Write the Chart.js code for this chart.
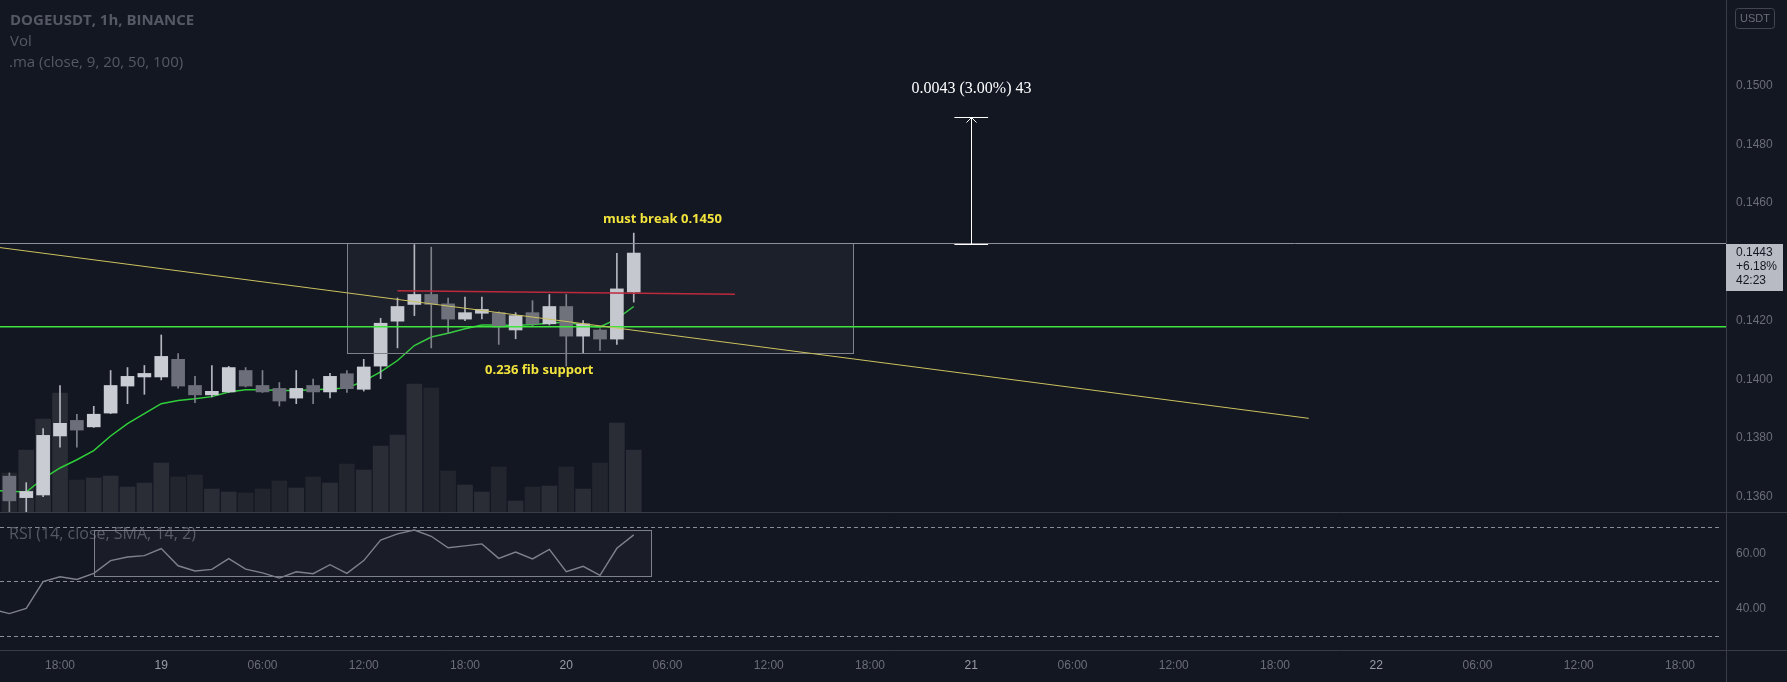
<!DOCTYPE html>
<html>
<head>
<meta charset="utf-8">
<title>DOGEUSDT, 1h, BINANCE</title>
<script src="https://cdn.jsdelivr.net/npm/chart.js@4.4.1/dist/chart.umd.min.js"></script>
<style>
  html, body { margin: 0; padding: 0; background: #131722; }
  #wrap { position: relative; width: 1787px; height: 682px; overflow: hidden; background: #131722; }
  #mainBox { position: absolute; left: 0; top: 0; width: 1787px; height: 512px; }
  #rsiBox { position: absolute; left: 0; top: 512px; width: 1787px; height: 170px; }
</style>
</head>
<body>
<div id="wrap">
  <div id="mainBox"><canvas id="mainChart" width="1787" height="512"></canvas></div>
  <div id="rsiBox"><canvas id="rsiChart" width="1787" height="170"></canvas></div>
</div>
<script>
// hours are counted from 18 Dec 18:00 (hour 0), one candle per hour
const firstCandleHour = -3;
const opens  = [0.13670, 0.13597, 0.13606, 0.13807, 0.13860, 0.13838, 0.13885, 0.13977, 0.14008, 0.14008,
                0.14068, 0.13979, 0.13947, 0.13957, 0.14030, 0.13979, 0.13969, 0.13936, 0.13979, 0.13957,
                0.14019, 0.13966, 0.14045, 0.14198, 0.14255, 0.14289, 0.14257, 0.14205, 0.14225, 0.14227,
                0.14168, 0.14227, 0.14189, 0.14248, 0.14147, 0.14168, 0.14137, 0.14297];
const highs  = [0.13681, 0.13648, 0.13832, 0.13979, 0.13881, 0.13908, 0.14030, 0.14040, 0.14047, 0.14151,
                0.14088, 0.14010, 0.14047, 0.14044, 0.14040, 0.14030, 0.13989, 0.14030, 0.14001, 0.14020,
                0.14030, 0.14068, 0.14208, 0.14277, 0.14459, 0.14450, 0.14277, 0.14280, 0.14280, 0.14230,
                0.14227, 0.14268, 0.14289, 0.14289, 0.14200, 0.14172, 0.14429, 0.14498];
const lows   = [0.13548, 0.13548, 0.13600, 0.13769, 0.13769, 0.13836, 0.13883, 0.13917, 0.13949, 0.13998,
                0.13970, 0.13920, 0.13940, 0.13955, 0.13974, 0.13955, 0.13909, 0.13917, 0.13917, 0.13937,
                0.13955, 0.13960, 0.14002, 0.14107, 0.14217, 0.14107, 0.14158, 0.14200, 0.14206, 0.14119,
                0.14138, 0.14180, 0.14185, 0.14045, 0.14087, 0.14098, 0.14119, 0.14263];
const closes = [0.13586, 0.13618, 0.13809, 0.13850, 0.13827, 0.13881, 0.13979, 0.14010, 0.14020, 0.14078,
                0.13977, 0.13947, 0.13959, 0.14040, 0.13977, 0.13957, 0.13926, 0.13969, 0.13957, 0.14010,
                0.13968, 0.14042, 0.14191, 0.14248, 0.14289, 0.14255, 0.14205, 0.14227, 0.14238, 0.14178,
                0.14217, 0.14189, 0.14248, 0.14147, 0.14189, 0.14137, 0.14308, 0.14430];
// volume, millions of DOGE
const volumes = [3.9, 6.2, 9.3, 11.9, 3.2, 3.4, 3.6, 2.5, 2.9, 4.9,
                 3.5, 3.7, 2.3, 2.0, 1.9, 2.3, 3.1, 2.4, 3.5, 2.9,
                 4.8, 4.2, 6.6, 7.7, 12.8, 12.4, 4.1, 2.7, 2.0, 4.5,
                 1.1, 2.5, 2.6, 4.5, 2.3, 4.9, 8.9, 6.2];

const maStartHour = -4;
const ma9 = [0.13622, 0.13619, 0.13616, 0.13662, 0.13698, 0.13726, 0.13757, 0.13807, 0.13849, 0.13883,
             0.13917, 0.13928, 0.13934, 0.13941, 0.13957, 0.13964, 0.13964, 0.13962, 0.13962, 0.13964,
             0.13967, 0.13970, 0.13994, 0.14025, 0.14064, 0.14115, 0.14144, 0.14157, 0.14172, 0.14185,
             0.14185, 0.14183, 0.14187, 0.14191, 0.14195, 0.14183, 0.14178, 0.14206, 0.14248];

const rsiStartHour = -4;
const rsi14 = [39.8, 38.2, 40.1, 49.9, 51.7, 50.7, 52.9, 57.6, 58.9, 59.4,
               62.0, 55.7, 53.8, 54.4, 58.3, 54.5, 53.1, 51.2, 53.5, 52.8,
               56.1, 52.9, 57.6, 65.1, 67.4, 68.8, 66.5, 62.3, 63.0, 63.7,
               58.4, 60.7, 58.2, 61.7, 53.5, 55.5, 52.2, 62.1, 67.0];

const priceTicks = [0.1360, 0.1380, 0.1400, 0.1420, 0.1460, 0.1480, 0.1500];
const rsiTicks = [40, 60];
const rsiBands = [30, 50, 70];
const timeTickHours = [0, 6, 12, 18, 24, 30, 36, 42, 48, 54, 60, 66, 72, 78, 84, 90, 96];
const timeTickLabels = ['18:00', '19', '06:00', '12:00', '18:00', '20', '06:00', '12:00', '18:00',
                        '21', '06:00', '12:00', '18:00', '22', '06:00', '12:00', '18:00'];
const dayTickHours = [6, 30, 54, 78];

// drawings (hour, price)
const trendLine = [[-4, 0.14452], [74, 0.13867]];
const redLine = [[20, 0.14302], [40, 0.14290]];
const resistanceLevel = 0.14463;
const supportLevel = 0.14179;
const rangeBoxHours = [17, 47];
const rangeBoxPrices = [0.14089, 0.14463];
const measureHour = 54;
const measurePrices = [0.14461, 0.14892];
const rsiBoxHours = [2, 35];
const rsiBoxValues = [51.85, 68.8];

const bg = '#131722';
const sepColor = '#3a3d47';
const axisText = '#6b6e79';
const upBody = '#c9ccd3';
const downBody = '#6c6f79';
const upWick = '#b4b7bf';
const downWick = '#7d808a';
const upVol = '#2a2d36';
const downVol = '#22252d';
const noteYellow = '#f2e43c';
const axisWidth = 61;

const xMin = -60 / 16.875;
const xMax = (1787 - axisWidth - 60) / 16.875;

const candleHours = opens.map((_, i) => firstCandleHour + i);
const isUp = i => closes[i] >= opens[i];

function fixAxisWidth(scale) {
  scale.width = axisWidth;
  scale.paddingTop = 0;
  scale.paddingBottom = 0;
}

const mainOverlay = {
  id: 'mainOverlay',
  afterDatasetsDraw(chart) {
    const { ctx, chartArea: a, scales: { x, y } } = chart;
    const px = v => x.getPixelForValue(v);
    const py = v => y.getPixelForValue(v);
    const crisp = v => Math.round(v) + 0.5;
    ctx.save();
    ctx.beginPath();
    ctx.rect(a.left, a.top, a.right - a.left, a.bottom - a.top);
    ctx.clip();

    // range box
    const bx0 = crisp(px(rangeBoxHours[0])), bx1 = crisp(px(rangeBoxHours[1]));
    const by0 = crisp(py(rangeBoxPrices[1])), by1 = crisp(py(rangeBoxPrices[0]));
    ctx.fillStyle = 'rgba(149,152,161,0.07)';
    ctx.fillRect(bx0, by0, bx1 - bx0, by1 - by0);
    ctx.strokeStyle = '#7e818b';
    ctx.lineWidth = 1;
    ctx.strokeRect(bx0, by0, bx1 - bx0, by1 - by0);

    // resistance line
    let ly = crisp(py(resistanceLevel));
    ctx.strokeStyle = '#8d9099';
    ctx.beginPath(); ctx.moveTo(a.left, ly); ctx.lineTo(a.right, ly); ctx.stroke();

    // support line
    ly = py(supportLevel);
    ctx.strokeStyle = '#3ee63e';
    ctx.lineWidth = 1.3;
    ctx.beginPath(); ctx.moveTo(a.left, ly); ctx.lineTo(a.right, ly); ctx.stroke();
    ctx.lineWidth = 1;

    // trend line
    ctx.strokeStyle = '#cdc25e';
    ctx.beginPath();
    ctx.moveTo(px(trendLine[0][0]), py(trendLine[0][1]));
    ctx.lineTo(px(trendLine[1][0]), py(trendLine[1][1]));
    ctx.stroke();

    // red line
    ctx.strokeStyle = '#bd2a3e';
    ctx.lineWidth = 1.5;
    ctx.beginPath();
    ctx.moveTo(px(redLine[0][0]), py(redLine[0][1]));
    ctx.lineTo(px(redLine[1][0]), py(redLine[1][1]));
    ctx.stroke();

    // price range measure
    const mx = crisp(px(measureHour));
    const mTop = crisp(py(measurePrices[1])), mBot = crisp(py(measurePrices[0]));
    const cL = px(measureHour - 1), cR = px(measureHour + 1);
    ctx.strokeStyle = '#ffffff';
    ctx.lineWidth = 1;
    ctx.beginPath();
    ctx.moveTo(mx, mBot); ctx.lineTo(mx, mTop);
    ctx.moveTo(cL, mTop); ctx.lineTo(cR, mTop);
    ctx.moveTo(cL, mBot); ctx.lineTo(cR, mBot);
    ctx.moveTo(mx - 5, mTop + 5); ctx.lineTo(mx, mTop); ctx.lineTo(mx + 5, mTop + 5);
    ctx.stroke();

    ctx.fillStyle = '#ffffff';
    ctx.font = '16px "Liberation Serif"';
    ctx.textAlign = 'center';
    ctx.textBaseline = 'middle';
    ctx.fillText('0.0043 (3.00%) 43', mx, py(0.14988));

    // notes
    ctx.fillStyle = noteYellow;
    ctx.font = 'bold 13px "Open Sans"';
    ctx.fillText('must break 0.1450', px(35.7), py(0.14545));
    ctx.fillText('0.236 fib support', px(28.4), py(0.14029));
    ctx.restore();
  },
  afterDraw(chart) {
    const { ctx, chartArea: a, scales: { y } } = chart;
    ctx.save();
    // legend
    ctx.textAlign = 'left';
    ctx.textBaseline = 'middle';
    ctx.fillStyle = '#555965';
    ctx.font = 'bold 15px "Open Sans"';
    ctx.fillText('DOGEUSDT, 1h, BINANCE', 10, 21);
    ctx.font = '15px "Open Sans"';
    ctx.fillText('Vol', 10, 42);
    ctx.fillText('.ma (close, 9, 20, 50, 100)', 9, 63);

    // last price label
    const last = closes[closes.length - 1];
    const top = Math.round(y.getPixelForValue(last)) - 9;
    ctx.fillStyle = '#b8bbc3';
    ctx.fillRect(a.right, top, 57, 47);
    ctx.fillStyle = bg;
    ctx.font = '12px "Liberation Sans"';
    ctx.fillText(last.toFixed(4), a.right + 10, top + 9);
    ctx.fillText('+6.18%', a.right + 10, top + 23);
    ctx.fillText('42:23', a.right + 10, top + 37);

    // currency button
    ctx.strokeStyle = '#434651';
    ctx.lineWidth = 1;
    ctx.beginPath();
    ctx.roundRect(a.right + 9.5, 8.5, 39, 20, 3);
    ctx.stroke();
    ctx.fillStyle = '#6b6e79';
    ctx.font = '11px "Liberation Sans"';
    ctx.textAlign = 'center';
    ctx.fillText('USDT', a.right + 29, 19);
    ctx.restore();
  }
};

new Chart(document.getElementById('mainChart'), {
  type: 'bar',
  data: {
    datasets: [
      {
        type: 'line',
        label: 'MA 9',
        data: ma9.map((v, i) => ({ x: maStartHour + i, y: v })),
        borderColor: '#2fcf3a',
        borderWidth: 1.5,
        pointRadius: 0,
        yAxisID: 'y',
        order: 3
      },
      {
        label: 'body',
        data: candleHours.map((h, i) => ({ x: h, y: [opens[i], closes[i]] })),
        backgroundColor: c => isUp(c.dataIndex) ? upBody : downBody,
        barThickness: 13,
        minBarLength: 1,
        grouped: false,
        yAxisID: 'y',
        order: 1
      },
      {
        label: 'wick',
        data: candleHours.map((h, i) => ({ x: h, y: [lows[i], highs[i]] })),
        backgroundColor: c => isUp(c.dataIndex) ? upWick : downWick,
        barThickness: 1,
        grouped: false,
        yAxisID: 'y',
        order: 2
      },
      {
        label: 'Vol',
        data: candleHours.map((h, i) => ({ x: h, y: volumes[i] })),
        backgroundColor: c => isUp(c.dataIndex) ? upVol : downVol,
        barThickness: 15,
        grouped: false,
        yAxisID: 'yVol',
        order: 10
      }
    ]
  },
  options: {
    responsive: false,
    animation: false,
    events: [],
    layout: { padding: 0 },
    plugins: { legend: { display: false }, tooltip: { enabled: false } },
    scales: {
      x: { type: 'linear', display: false, min: xMin, max: xMax, offset: false },
      y: {
        position: 'right',
        min: 0.13548,
        max: 0.15292,
        grid: { display: false, drawTicks: false },
        border: { display: true, color: sepColor },
        afterBuildTicks: s => { s.ticks = priceTicks.map(v => ({ value: v })); },
        afterFit: fixAxisWidth,
        ticks: {
          padding: 10,
          color: axisText,
          font: { family: 'Liberation Sans', size: 12 },
          callback: v => v.toFixed(4)
        }
      },
      yVol: { display: false, min: 0, max: 51.2 }
    }
  },
  plugins: [mainOverlay]
});

const rsiOverlay = {
  id: 'rsiOverlay',
  beforeDatasetsDraw(chart) {
    const { ctx, chartArea: a, scales: { x, y } } = chart;
    const crisp = v => Math.round(v) + 0.5;
    ctx.save();
    // level bands
    ctx.strokeStyle = '#8a8d96';
    ctx.lineWidth = 1;
    ctx.setLineDash([4, 3]);
    rsiBands.forEach(v => {
      const ly = crisp(y.getPixelForValue(v));
      ctx.beginPath(); ctx.moveTo(a.left, ly); ctx.lineTo(a.right - 4, ly); ctx.stroke();
    });
    ctx.setLineDash([]);
    // indicator label
    ctx.fillStyle = '#555965';
    ctx.font = '16px "Open Sans"';
    ctx.textAlign = 'left';
    ctx.textBaseline = 'middle';
    ctx.fillText('RSI (14, close, SMA, 14, 2)', 9, 22);
    // drawn rectangle
    const x0 = crisp(x.getPixelForValue(rsiBoxHours[0])), x1 = crisp(x.getPixelForValue(rsiBoxHours[1]));
    const y0 = crisp(y.getPixelForValue(rsiBoxValues[1])), y1 = crisp(y.getPixelForValue(rsiBoxValues[0]));
    ctx.fillStyle = 'rgba(149,152,161,0.05)';
    ctx.fillRect(x0, y0, x1 - x0, y1 - y0);
    ctx.strokeStyle = '#7e818b';
    ctx.strokeRect(x0, y0, x1 - x0, y1 - y0);
    ctx.restore();
  },
  afterDraw(chart) {
    const { ctx, chartArea: a, width, height } = chart;
    ctx.save();
    ctx.strokeStyle = sepColor;
    ctx.lineWidth = 1;
    ctx.beginPath();
    ctx.moveTo(0, 0.5); ctx.lineTo(width, 0.5);
    ctx.moveTo(0, Math.round(a.bottom) + 0.5); ctx.lineTo(width, Math.round(a.bottom) + 0.5);
    ctx.moveTo(Math.round(a.right) + 0.5, 0); ctx.lineTo(Math.round(a.right) + 0.5, height);
    ctx.stroke();
    ctx.restore();
  }
};

new Chart(document.getElementById('rsiChart'), {
  type: 'line',
  data: {
    datasets: [{
      label: 'RSI',
      data: rsi14.map((v, i) => ({ x: rsiStartHour + i, y: v })),
      borderColor: '#7f828b',
      borderWidth: 1.4,
      pointRadius: 0
    }]
  },
  options: {
    responsive: false,
    animation: false,
    events: [],
    layout: { padding: 0 },
    plugins: { legend: { display: false }, tooltip: { enabled: false } },
    scales: {
      x: {
        type: 'linear',
        min: xMin,
        max: xMax,
        offset: false,
        grid: { display: false, drawTicks: false },
        border: { display: false },
        afterBuildTicks: s => { s.ticks = timeTickHours.map(v => ({ value: v })); },
        afterFit: s => { s.height = 32; s.paddingLeft = 0; s.paddingRight = 0; },
        ticks: {
          autoSkip: false,
          maxRotation: 0,
          padding: 8,
          color: c => (c.tick && dayTickHours.includes(c.tick.value)) ? '#9a9da6' : axisText,
          font: { family: 'Liberation Sans', size: 12 },
          callback: v => timeTickLabels[timeTickHours.indexOf(v)]
        }
      },
      y: {
        position: 'right',
        min: 24.88,
        max: 75.38,
        grid: { display: false, drawTicks: false },
        border: { display: false },
        afterBuildTicks: s => { s.ticks = rsiTicks.map(v => ({ value: v })); },
        afterFit: fixAxisWidth,
        ticks: {
          padding: 10,
          color: axisText,
          font: { family: 'Liberation Sans', size: 12 },
          callback: v => v.toFixed(2)
        }
      }
    }
  },
  plugins: [rsiOverlay]
});
</script>
</body>
</html>
